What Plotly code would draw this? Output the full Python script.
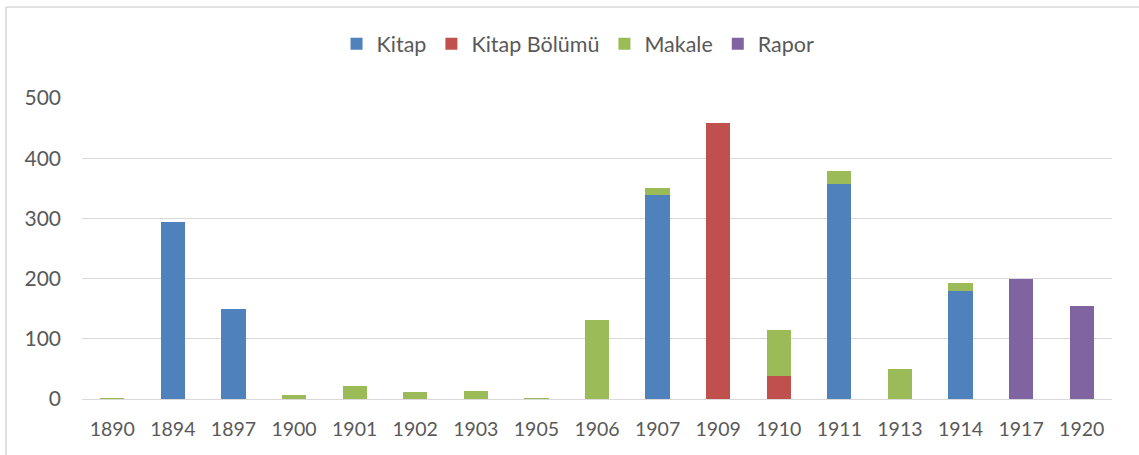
import plotly.graph_objects as go

years = ["1890", "1894", "1897", "1900", "1901", "1902", "1903", "1905", "1906",
         "1907", "1909", "1910", "1911", "1913", "1914", "1917", "1920"]
kitap = [0, 294, 150, 0, 0, 0, 0, 0, 0, 339, 0, 0, 357, 0, 179, 0, 0]
kitap_bolumu = [0, 0, 0, 0, 0, 0, 0, 0, 0, 0, 459, 38, 0, 0, 0, 0, 0]
makale = [1, 0, 0, 6, 22, 11, 13, 1, 132, 12, 0, 76, 22, 50, 13, 0, 0]
rapor = [0, 0, 0, 0, 0, 0, 0, 0, 0, 0, 0, 0, 0, 0, 0, 200, 155]

series = [
    ("Kitap", kitap, "#4f81bd"),
    ("Kitap Bölümü", kitap_bolumu, "#c0504d"),
    ("Makale", makale, "#9bbb59"),
    ("Rapor", rapor, "#8064a2"),
]

fig = go.Figure()
for name, vals, color in series:
    fig.add_trace(go.Bar(x=years, y=vals, name=name, marker_color=color,
                         marker_line_width=0))

font = "Lato, 'Open Sans', sans-serif"
fig.update_layout(
    width=1139, height=455,
    barmode="stack", bargap=0.6,
    plot_bgcolor="white", paper_bgcolor="white",
    margin=dict(l=82, r=27, t=98, b=56),
    font=dict(family=font, size=19, color="#595959"),
    legend=dict(orientation="h", x=0.4816, xanchor="center", y=1.18, yanchor="middle",
                font=dict(size=21.5, color="#595959"), traceorder="normal",
                itemwidth=30),
    xaxis=dict(type="category", showgrid=False, showline=False, ticks="",
               ticklabelstandoff=16,
               tickfont=dict(size=19.5, color="#595959")),
    yaxis=dict(range=[0, 500], dtick=100, showgrid=True, gridcolor="#d9d9d9",
               gridwidth=1, zeroline=True, zerolinecolor="#d9d9d9", zerolinewidth=1,
               ticks="", ticklabelstandoff=20, tickfont=dict(size=21, color="#595959")),
    shapes=[
        dict(type="line", xref="paper", yref="paper", x0=-0.0738, x1=-0.0738,
             y0=-0.2, y1=1.3023, line=dict(color="#d9d9d9", width=1.5)),
        dict(type="line", xref="paper", yref="paper", x0=-0.0738, x1=1.03,
             y0=1.3023, y1=1.3023, line=dict(color="#d9d9d9", width=1.5)),
    ],
)

fig.write_html("out.html", config={"displayModeBar": False},
               post_script="document.body.style.margin='0px';")
